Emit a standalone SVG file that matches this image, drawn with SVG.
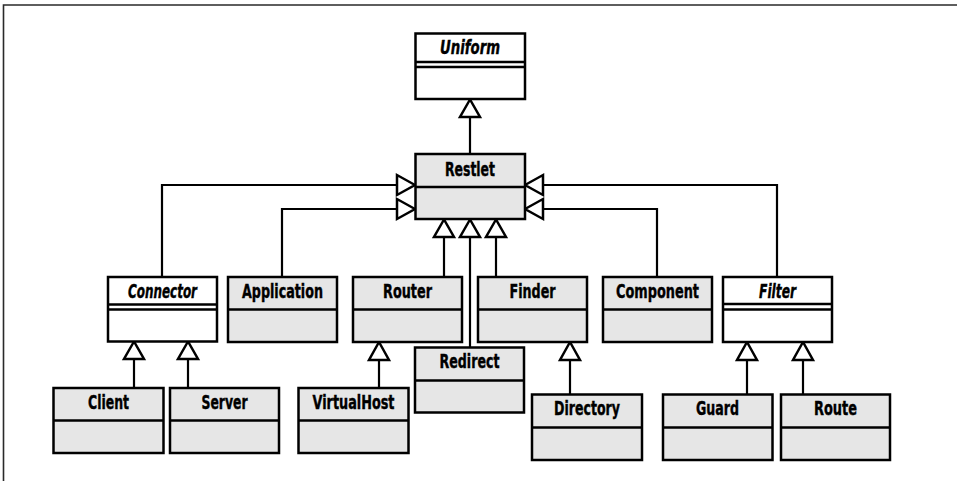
<svg xmlns="http://www.w3.org/2000/svg" width="957" height="481" viewBox="0 0 957 481">
<style>
.box{stroke:#000;stroke-width:2.5;fill:#e6e6e6}
.abs{fill:#fff}
.div{stroke:#000;stroke-width:2.5}
.lbl{font-family:"DejaVu Sans Condensed","DejaVu Sans",sans-serif;font-weight:bold;font-size:19px;fill:#000;stroke:#000;stroke-width:0.4;text-anchor:middle}
.it{font-style:italic}
.ln{stroke:#000;stroke-width:2.2;fill:none}
.ah{stroke:#000;stroke-width:2.5;fill:#fff;stroke-linejoin:miter}
.frame{stroke:#2a2a2a;stroke-width:1.6;fill:none}
</style>
<path class="frame" d="M3.5,481 V5 H957"/>
<g id="connectors">
<path class="ln" d="M470,154 V117"/>
<path class="ln" d="M162,277 V185 H397"/>
<path class="ln" d="M282,277 V209 H397"/>
<path class="ln" d="M777,277 V185 H543"/>
<path class="ln" d="M657,277 V209 H543"/>
<path class="ln" d="M444,277 V237"/>
<path class="ln" d="M470,347.5 V237"/>
<path class="ln" d="M496,277 V237"/>
<path class="ln" d="M134,388 V359"/>
<path class="ln" d="M188,388 V359"/>
<path class="ln" d="M379,388 V360"/>
<path class="ln" d="M570,394.5 V360"/>
<path class="ln" d="M747,394.5 V360"/>
<path class="ln" d="M803,394.5 V360"/>
<polygon class="ah" points="470,99.5 460,117 480,117"/>
<polygon class="ah" points="415,185 397,175 397,195"/>
<polygon class="ah" points="415,209 397,199 397,219"/>
<polygon class="ah" points="525,185 543,175 543,195"/>
<polygon class="ah" points="525,209 543,199 543,219"/>
<polygon class="ah" points="444,219.5 434,237 454,237"/>
<polygon class="ah" points="470,219.5 460,237 480,237"/>
<polygon class="ah" points="496,219.5 486,237 506,237"/>
<polygon class="ah" points="134,341.5 124,359 144,359"/>
<polygon class="ah" points="188,341.5 178,359 198,359"/>
<polygon class="ah" points="379,342 369,360 389,360"/>
<polygon class="ah" points="570,342 560,360 580,360"/>
<polygon class="ah" points="747,342 737,360 757,360"/>
<polygon class="ah" points="803,342 793,360 813,360"/>
</g>
<g id="Uniform">
<rect class="box abs" x="415.5" y="33.5" width="109.5" height="65.5"/>
<line class="div" x1="415.5" y1="62" x2="525" y2="62"/>
<line class="div" x1="415.5" y1="67" x2="525" y2="67"/>
<text class="lbl it" x="470" y="53.5" textLength="60" lengthAdjust="spacingAndGlyphs">Uniform</text>
</g>
<g id="Restlet">
<rect class="box" x="415.5" y="154" width="109.5" height="65"/>
<line class="div" x1="415.5" y1="187" x2="525" y2="187"/>
<text class="lbl" x="470" y="175.5" textLength="50" lengthAdjust="spacingAndGlyphs">Restlet</text>
</g>
<g id="Connector">
<rect class="box abs" x="108" y="277" width="109" height="64.5"/>
<line class="div" x1="108" y1="304.5" x2="217" y2="304.5"/>
<line class="div" x1="108" y1="309.5" x2="217" y2="309.5"/>
<text class="lbl it" x="162.5" y="297.5" textLength="69" lengthAdjust="spacingAndGlyphs">Connector</text>
</g>
<g id="Application">
<rect class="box" x="228" y="277" width="109" height="65"/>
<line class="div" x1="228" y1="309.5" x2="337" y2="309.5"/>
<text class="lbl" x="282.5" y="297.5" textLength="81" lengthAdjust="spacingAndGlyphs">Application</text>
</g>
<g id="Router">
<rect class="box" x="353" y="277" width="109" height="65"/>
<line class="div" x1="353" y1="309.5" x2="462" y2="309.5"/>
<text class="lbl" x="407.5" y="297.5" textLength="49" lengthAdjust="spacingAndGlyphs">Router</text>
</g>
<g id="Finder">
<rect class="box" x="478" y="277" width="109" height="65"/>
<line class="div" x1="478" y1="309.5" x2="587" y2="309.5"/>
<text class="lbl" x="532.5" y="297.5" textLength="46" lengthAdjust="spacingAndGlyphs">Finder</text>
</g>
<g id="Component">
<rect class="box" x="603" y="277" width="109" height="65"/>
<line class="div" x1="603" y1="309.5" x2="712" y2="309.5"/>
<text class="lbl" x="657.5" y="297.5" textLength="83" lengthAdjust="spacingAndGlyphs">Component</text>
</g>
<g id="Filter">
<rect class="box abs" x="723" y="277" width="109" height="65"/>
<line class="div" x1="723" y1="304" x2="832" y2="304"/>
<line class="div" x1="723" y1="309.5" x2="832" y2="309.5"/>
<text class="lbl it" x="777.5" y="297.5" textLength="37" lengthAdjust="spacingAndGlyphs">Filter</text>
</g>
<g id="Redirect">
<rect class="box" x="415" y="347.5" width="109" height="65"/>
<line class="div" x1="415" y1="380.5" x2="524" y2="380.5"/>
<text class="lbl" x="469.5" y="368" textLength="60" lengthAdjust="spacingAndGlyphs">Redirect</text>
</g>
<g id="Client">
<rect class="box" x="53.5" y="388" width="110" height="65"/>
<line class="div" x1="53.5" y1="420.5" x2="163.5" y2="420.5"/>
<text class="lbl" x="108.5" y="408.5" textLength="41" lengthAdjust="spacingAndGlyphs">Client</text>
</g>
<g id="Server">
<rect class="box" x="170" y="388" width="109" height="65"/>
<line class="div" x1="170" y1="420.5" x2="279" y2="420.5"/>
<text class="lbl" x="224.5" y="408.5" textLength="46" lengthAdjust="spacingAndGlyphs">Server</text>
</g>
<g id="VirtualHost">
<rect class="box" x="298.5" y="388" width="110" height="65"/>
<line class="div" x1="298.5" y1="420.5" x2="408.5" y2="420.5"/>
<text class="lbl" x="353.5" y="408.5" textLength="82" lengthAdjust="spacingAndGlyphs">VirtualHost</text>
</g>
<g id="Directory">
<rect class="box" x="532" y="394.5" width="110" height="65.5"/>
<line class="div" x1="532" y1="427.5" x2="642" y2="427.5"/>
<text class="lbl" x="587" y="415" textLength="66" lengthAdjust="spacingAndGlyphs">Directory</text>
</g>
<g id="Guard">
<rect class="box" x="663" y="394.5" width="109.5" height="65.5"/>
<line class="div" x1="663" y1="427.5" x2="772.5" y2="427.5"/>
<text class="lbl" x="717.5" y="415" textLength="43" lengthAdjust="spacingAndGlyphs">Guard</text>
</g>
<g id="Route">
<rect class="box" x="781" y="394.5" width="109" height="65.5"/>
<line class="div" x1="781" y1="427.5" x2="890" y2="427.5"/>
<text class="lbl" x="835.5" y="415" textLength="43" lengthAdjust="spacingAndGlyphs">Route</text>
</g>
</svg>
